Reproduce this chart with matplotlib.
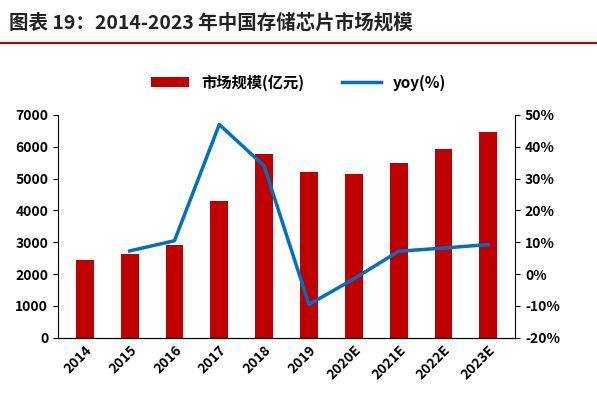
import matplotlib
matplotlib.use("Agg")
import matplotlib.pyplot as plt
from matplotlib.lines import Line2D
from matplotlib.ticker import FuncFormatter

plt.rcParams['font.family'] = ['Noto Sans CJK SC', 'DejaVu Sans']

years = ['2014', '2015', '2016', '2017', '2018', '2019', '2020E', '2021E', '2022E', '2023E']
market = [2450, 2630, 2920, 4300, 5780, 5210, 5130, 5480, 5930, 6480]
yoy = [None, 7.3, 10.5, 47.0, 34.0, -9.5, -1.5, 7.2, 8.2, 9.3]

fig = plt.figure(figsize=(5.97, 4.12), dpi=100)
ax = fig.add_axes([0.097, 0.18, 0.766, 0.541])
x = list(range(len(years)))
ax.bar(x, market, width=0.4, color='#C00000', label='市场规模(亿元)')
ax.set_ylim(0, 7000)
ax.set_yticks(range(0, 7001, 1000))
ax.set_xlim(-0.6, len(years) - 0.4)
ax.set_xticks(x)
ax.set_xticklabels(years, rotation=45, ha='right', rotation_mode='anchor', fontweight='bold', fontsize=10)
for lab in ax.get_yticklabels():
    lab.set_fontweight('bold'); lab.set_fontsize(10)
for s in ['top', 'right']:
    ax.spines[s].set_visible(False)
ax.tick_params(axis='x', length=0)

ax2 = ax.twinx()
xs = [i for i, v in zip(x, yoy) if v is not None]
ys = [v for v in yoy if v is not None]
ax2.plot(xs, ys, color='#0070C0', lw=2.5, label='yoy(%)')
ax2.set_ylim(-20, 50)
ax2.set_yticks(range(-20, 51, 10))
ax2.yaxis.set_major_formatter(FuncFormatter(lambda v, p: f'{int(v)}%'))
for lab in ax2.get_yticklabels():
    lab.set_fontweight('bold'); lab.set_fontsize(10)
for s in ['top', 'left']:
    ax2.spines[s].set_visible(False)

h1, l1 = ax.get_legend_handles_labels()
h2, l2 = ax2.get_legend_handles_labels()
fig.legend(h1 + h2, l1 + l2, loc='center', bbox_to_anchor=(0.5, 0.80), ncol=2, frameon=False,
           prop={'weight': 'bold', 'size': 11}, handlelength=2.5, columnspacing=2.5)

fig.text(0.015, 0.945, '图表 19：2014-2023 年中国存储芯片市场规模', fontsize=14, fontweight='bold',
         style='italic', color='#222222', va='center')
fig.add_artist(Line2D([0.0, 1.0], [0.895, 0.895], color='#C00000', lw=1.5))

fig.savefig('out.png', dpi=100)
